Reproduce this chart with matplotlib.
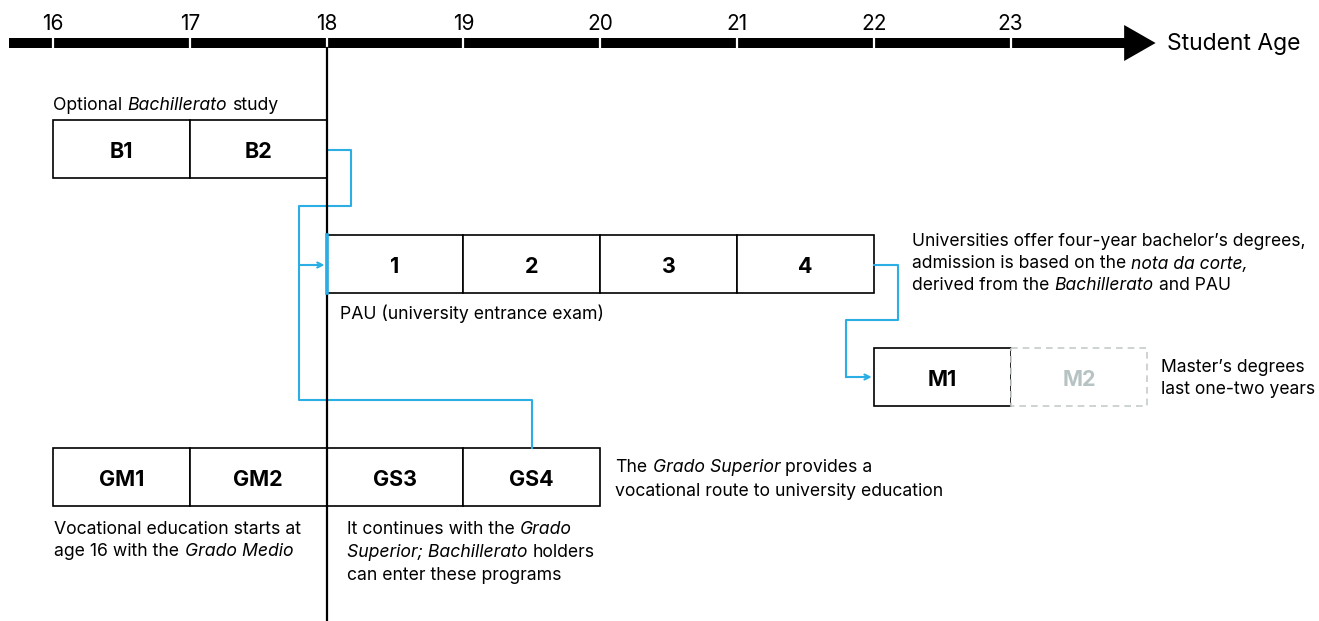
import matplotlib.pyplot as plt
from matplotlib.patches import Rectangle, Polygon

plt.rcParams['font.family'] = ['Inter', 'DejaVu Sans']

# ages on the timeline
ages = [16, 17, 18, 19, 20, 21, 22, 23]
axis_label = 'Student Age'

# programmes: labels and starting age
bach_labels = ['B1', 'B2']
bach_start = 16
uni_labels = ['1', '2', '3', '4']
uni_start = 18
master_labels = ['M1']
master_start = 22
master_optional = ['M2']
voc_labels = ['GM1', 'GM2', 'GS3', 'GS4']
voc_start = 16

BLUE = '#2aaee4'
GREY = '#c5cccc'

PX = 136.8  # pixels per year

fig = plt.figure(figsize=(13.19, 6.21), dpi=100)
ax = fig.add_axes([0, 0, 1, 1])
ax.set_xlim(16 - 53.0 / PX, 16 + (1319 - 53.0) / PX)
ax.set_ylim(621, 0)
ax.axis('off')


def row(labels, start, top, bottom, ec='black', tc='black', ls='-'):
    for i, lab in enumerate(labels):
        ax.add_patch(Rectangle((start + i, top), 1, bottom - top, fc='white',
                               ec=ec, lw=1.2, ls=ls, zorder=3))
        ax.text(start + i + 0.5, (top + bottom) / 2 + 3, lab, ha='center', va='center',
                fontsize=15.5, fontweight='bold', color=tc, zorder=4)


def rich(x, y, lines, size=12.7, gap=22):
    # lines: list of [(text, italic), ...]
    for k, parts in enumerate(lines):
        prev = None
        for txt, it in parts:
            lead = txt.startswith(' ')
            txt = txt.strip()
            style = 'italic' if it else 'normal'
            if prev is None:
                prev = ax.text(x, y + 2 + k * gap, txt, fontsize=size, style=style,
                               ha='left', va='center', zorder=5)
            else:
                prev = ax.annotate(txt, xy=(1, 0), xycoords=prev,
                                   xytext=(3.7 if lead else 0, 0), textcoords='offset points',
                                   fontsize=size, style=style, ha='left', va='bottom', zorder=5)


# timeline bar with arrow
left = 16 - 44 / PX
ax.add_patch(Rectangle((left, 38), ages[-1] + 0.84 - left, 10,
                       fc='black', ec='none', zorder=2))
ax.add_patch(Polygon([(ages[-1] + 0.83, 25), (ages[-1] + 1.06, 43), (ages[-1] + 0.83, 61)],
                     closed=True, fc='black', ec='none', zorder=2))
for a in ages:
    ax.plot([a, a], [37, 49], color='white', lw=1.6, zorder=3)
    ax.text(a, 24, str(a), ha='center', va='center', fontsize=15)
ax.text(ages[-1] + 1.14, 44, axis_label, ha='left', va='center', fontsize=16.5)

# age 18 divider
ax.plot([18, 18], [48, 621], color='black', lw=1.6, zorder=6)

row(bach_labels, bach_start, 120, 178)
row(uni_labels, uni_start, 235, 293)
row(master_labels, master_start, 348, 406)
row(master_optional, master_start + 1, 348, 406, ec=GREY, tc='#b7c3c3', ls=(0, (4, 3)))
row(voc_labels, voc_start, 448, 506)

# connectors
ax.plot([18, 18.18, 18.18, 17.8, 17.8, 19.5, 19.5],
        [150, 150, 206, 206, 400, 400, 448], color=BLUE, lw=1.5, zorder=4)
ax.plot([18, 18], [235, 293], color=BLUE, lw=2.6, zorder=7)
ax.annotate('', xy=(17.985, 265), xytext=(17.8, 265),
            arrowprops=dict(arrowstyle='->', color=BLUE, lw=1.5, shrinkA=0, shrinkB=0,
                            mutation_scale=9), zorder=4)
ax.plot([22, 22.18, 22.18, 21.8, 21.8], [265, 265, 320, 320, 377], color=BLUE, lw=1.5, zorder=4)
ax.annotate('', xy=(21.985, 377), xytext=(21.8, 377),
            arrowprops=dict(arrowstyle='->', color=BLUE, lw=1.5, shrinkA=0, shrinkB=0,
                            mutation_scale=9), zorder=4)

# annotations
rich(16.0, 103, [[('Optional', False), (' Bachillerato', True), (' study', False)]])
rich(18.1, 312, [[('PAU (university entrance exam)', False)]])
rich(22.28, 240, [[('Universities offer four-year bachelor\u2019s degrees,', False)],
                  [('admission is based on the', False), (' nota da corte,', True)],
                  [('derived from the', False), (' Bachillerato', True), (' and PAU', False)]],
     size=12.6)
rich(24.1, 366, [[('Master\u2019s degrees', False)], [('last one-two years', False)]], size=12.6)
rich(20.11, 466, [[('The', False), (' Grado Superior', True), (' provides a', False)],
                  [('vocational route to university education', False)]], gap=23)
rich(16.01, 528, [[('Vocational education starts at', False)],
                  [('age 16 with the', False), (' Grado Medio', True)]])
rich(18.15, 528, [[('It continues with the', False), (' Grado', True)],
                  [('Superior; Bachillerato', True), (' holders', False)],
                  [('can enter these programs', False)]], gap=22.5)

fig.savefig('out.png', dpi=100)
